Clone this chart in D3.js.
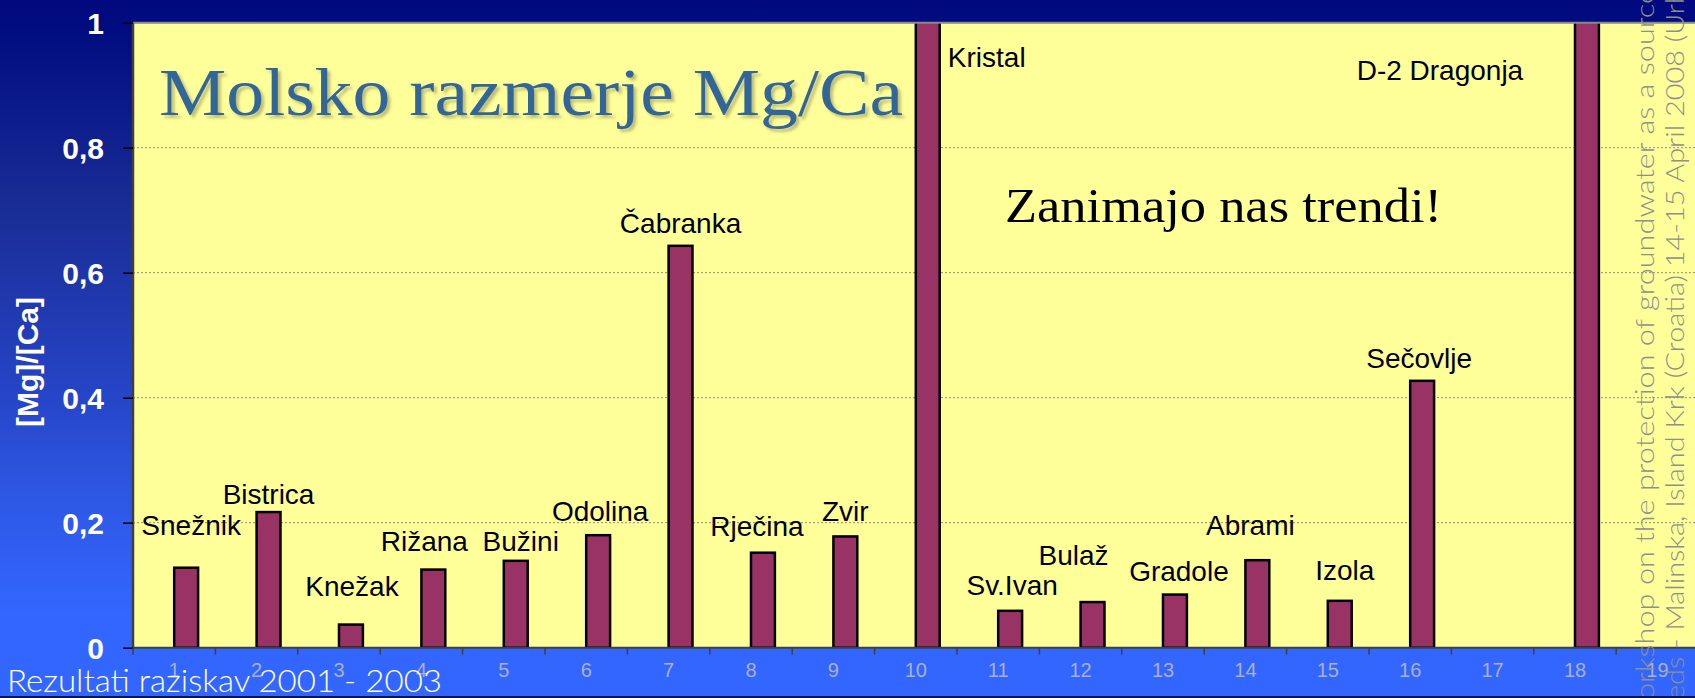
<!DOCTYPE html>
<html>
<head>
<meta charset="utf-8">
<script src="https://cdn.jsdelivr.net/npm/d3@7"></script>
<style>
  html, body { margin: 0; padding: 0; background: #3366ff; }
  svg { display: block; }
</style>
</head>
<body>
<svg id="viz" width="1695" height="698"></svg>
<script>
// categories (sample points) and the Mg/Ca molar ratio
var categories = ["1","2","3","4","5","6","7","8","9","10","11","12","13","14","15","16","17","18","19"]
var sites = ["Snežnik","Bistrica","Knežak","Rižana","Bužini","Odolina","Čabranka","Rječina","Zvir","Kristal",
             "Sv.Ivan","Bulaž","Gradole","Abrami","Izola","Sečovlje", null, "D-2 Dragonja", null]
var ratios = [0.128, 0.217, 0.037, 0.125, 0.139, 0.180, 0.643, 0.152, 0.178, 1.25,
              0.059, 0.073, 0.085, 0.140, 0.075, 0.427, null, 1.2, null]
var yTicks = [0, 0.2, 0.4, 0.6, 0.8, 1]
var yTickLabels = ["0", "0,2", "0,4", "0,6", "0,8", "1"]

// hand placed label nudges [dx, dy] from bar top centre (as on the slide)
var labelNudge = [[5,-33],[0,-8],[1,-29],[-9,-19],[5,-10],[2,-14],[0,-13],[-6,-17],[0,-15],[59,44],
                  [2,-16],[-19,-37],[4,-14],[-7,-25],[5,-21],[-3,-13],null,[-147,57],null]

let W = 1695, H = 698
let plotLeft = 133, plotTop = 22.7, plotBottom = 647.7, catWidth = 82.4
let viz = d3.select("#viz")

let defs = viz.append("defs")
let grad = defs.append("linearGradient").attr("id", "bg").attr("x1", 0).attr("y1", 0).attr("x2", 0).attr("y2", 1)
;[[0, "#000a7e"], [0.04, "#000c80"], [0.30, "#1a2d96"], [0.55, "#2543c4"], [0.72, "#2e58e6"], [0.88, "#3366ff"], [1, "#3366ff"]]
    .forEach(s => grad.append("stop").attr("offset", s[0]).attr("stop-color", s[1]))

defs.append("clipPath").attr("id", "plotClip")
    .append("rect")
    .attr("x", plotLeft).attr("y", plotTop)
    .attr("width", W - plotLeft + 20).attr("height", plotBottom - plotTop)

let shadow = defs.append("filter").attr("id", "shadow").attr("x", "-5%").attr("y", "-20%").attr("width", "110%").attr("height", "140%")
shadow.append("feDropShadow").attr("dx", 3).attr("dy", 3).attr("stdDeviation", 1.5)
    .attr("flood-color", "#6f6f50").attr("flood-opacity", 0.45)

let x = d3.scaleBand()
    .domain(categories)
    .range([plotLeft, plotLeft + categories.length * catWidth])
    .paddingInner(0).paddingOuter(0)

let y = d3.scaleLinear()
    .domain([0, 1])
    .range([plotBottom, plotTop])

let barW = x.bandwidth() * 0.29

// background + plot area
viz.append("rect").attr("width", W).attr("height", H).attr("fill", "url(#bg)")
viz.append("rect")
    .attr("x", plotLeft).attr("y", plotTop)
    .attr("width", W - plotLeft).attr("height", plotBottom - plotTop)
    .attr("fill", "#ffff99")

// gridlines
viz.append("g")
    .selectAll("line")
    .data(yTicks.filter(t => t > 0 && t < 1))
    .enter().append("line")
    .attr("x1", plotLeft).attr("x2", W)
    .attr("y1", d => y(d)).attr("y2", d => y(d))
    .attr("stroke", "#8c8c8c")
    .attr("stroke-width", 1)
    .attr("stroke-dasharray", "2,2")

// bars
let rows = categories.map((c, i) => ({cat: c, site: sites[i], value: ratios[i], nudge: labelNudge[i]}))

viz.append("g")
    .attr("clip-path", "url(#plotClip)")
    .selectAll("rect")
    .data(rows.filter(r => r.value != null))
    .enter().append("rect")
    .attr("x", r => x(r.cat) + x.bandwidth() / 2)
    .attr("y", r => y(r.value))
    .attr("width", barW)
    .attr("height", r => y(0) - y(r.value))
    .attr("fill", "#993366")
    .attr("stroke", "#000")
    .attr("stroke-width", 2.5)

// plot frame
viz.append("line").attr("x1", plotLeft).attr("x2", W).attr("y1", plotTop).attr("y2", plotTop)
    .attr("stroke", "#8a8a80").attr("stroke-width", 2)
viz.append("line").attr("x1", plotLeft).attr("x2", plotLeft).attr("y1", plotTop).attr("y2", plotBottom)
    .attr("stroke", "#404040").attr("stroke-width", 2.5)

// y axis
let yAxis = viz.append("g")
    .attr("transform", `translate(${plotLeft},0)`)
    .call(d3.axisLeft(y).tickValues(yTicks).tickFormat((d, i) => yTickLabels[i]).tickSize(10).tickPadding(19))
yAxis.select(".domain").remove()
yAxis.selectAll(".tick line").attr("stroke", "#000").attr("stroke-width", 1.5)
yAxis.selectAll(".tick text")
    .attr("fill", "#fff")
    .attr("font-family", "'Liberation Sans', Arial, sans-serif")
    .attr("font-weight", "bold")
    .attr("font-size", 30)
    .attr("dy", "0.36em")

// x axis: labels at category centres, ticks at boundaries
let xAxis = viz.append("g")
    .attr("transform", `translate(0,${plotBottom})`)
    .call(d3.axisBottom(x).tickSize(0).tickPadding(15))
xAxis.select(".domain").remove()
xAxis.selectAll(".tick text")
    .attr("fill", "#aab0c8")
    .attr("font-family", "'Liberation Sans', Arial, sans-serif")
    .attr("font-size", 20)

viz.append("line").attr("x1", plotLeft).attr("x2", W).attr("y1", plotBottom).attr("y2", plotBottom)
    .attr("stroke", "#404040").attr("stroke-width", 2)
viz.append("g")
    .selectAll("line")
    .data(categories.concat(["end"]))
    .enter().append("line")
    .attr("x1", (c, i) => plotLeft + i * x.step())
    .attr("x2", (c, i) => plotLeft + i * x.step())
    .attr("y1", plotBottom).attr("y2", plotBottom + 7)
    .attr("stroke", "#404040").attr("stroke-width", 1.5)

// y axis title
viz.append("text")
    .attr("transform", "translate(38,362) rotate(-90)")
    .attr("text-anchor", "middle")
    .attr("fill", "#fff")
    .attr("font-family", "'Liberation Sans', Arial, sans-serif")
    .attr("font-weight", "bold")
    .attr("font-size", 30)
    .text("[Mg]/[Ca]")

// site labels
viz.append("g")
    .selectAll("text")
    .data(rows.filter(r => r.site))
    .enter().append("text")
    .attr("x", r => x(r.cat) + x.bandwidth() / 2 + barW / 2 + r.nudge[0])
    .attr("y", r => y(Math.min(r.value, 1)) + r.nudge[1])
    .attr("text-anchor", "middle")
    .attr("font-family", "'Liberation Sans', Arial, sans-serif")
    .attr("font-size", 28)
    .attr("fill", "#000")
    .text(r => r.site)

// slide texts
viz.append("text")
    .attr("x", 159).attr("y", 115)
    .attr("font-family", "'Liberation Serif', 'Times New Roman', serif")
    .attr("font-size", 68)
    .attr("fill", "#336699")
    .attr("textLength", 744).attr("lengthAdjust", "spacingAndGlyphs")
    .attr("filter", "url(#shadow)")
    .text("Molsko razmerje Mg/Ca")

viz.append("text")
    .attr("x", 1005).attr("y", 222)
    .attr("font-family", "'Liberation Serif', 'Times New Roman', serif")
    .attr("font-size", 48)
    .attr("fill", "#000")
    .attr("textLength", 437).attr("lengthAdjust", "spacingAndGlyphs")
    .text("Zanimajo nas trendi!")

viz.append("text")
    .attr("x", 7).attr("y", 692)
    .attr("font-family", "Lato, 'Open Sans', sans-serif")
    .attr("font-weight", 300)
    .attr("font-size", 31)
    .attr("fill", "#fff")
    .attr("textLength", 435).attr("lengthAdjust", "spacingAndGlyphs")
    .text("Rezultati raziskav 2001 - 2003")

// running footer of the slide, turned on its side and cut by the page edge
var footer = ["orkshop on the protection of groundwater as a source",
              "eds - Malinska, Island Krk (Croatia) 14-15 April 2008 (Urb"]
viz.append("g")
    .selectAll("text")
    .data(footer)
    .enter().append("text")
    .attr("transform", (d, i) => `translate(${1654 + i * 30},700) rotate(-90)`)
    .attr("font-family", "Lato, 'Open Sans', sans-serif")
    .attr("font-weight", 300)
    .attr("font-size", 25)
    .attr("fill", "#8f8f8f")
    .attr("textLength", 712).attr("lengthAdjust", "spacingAndGlyphs")
    .text(d => d)

viz.append("rect").attr("x", 0).attr("y", 696).attr("width", W).attr("height", 2).attr("fill", "#0d1646")
</script>
</body>
</html>
